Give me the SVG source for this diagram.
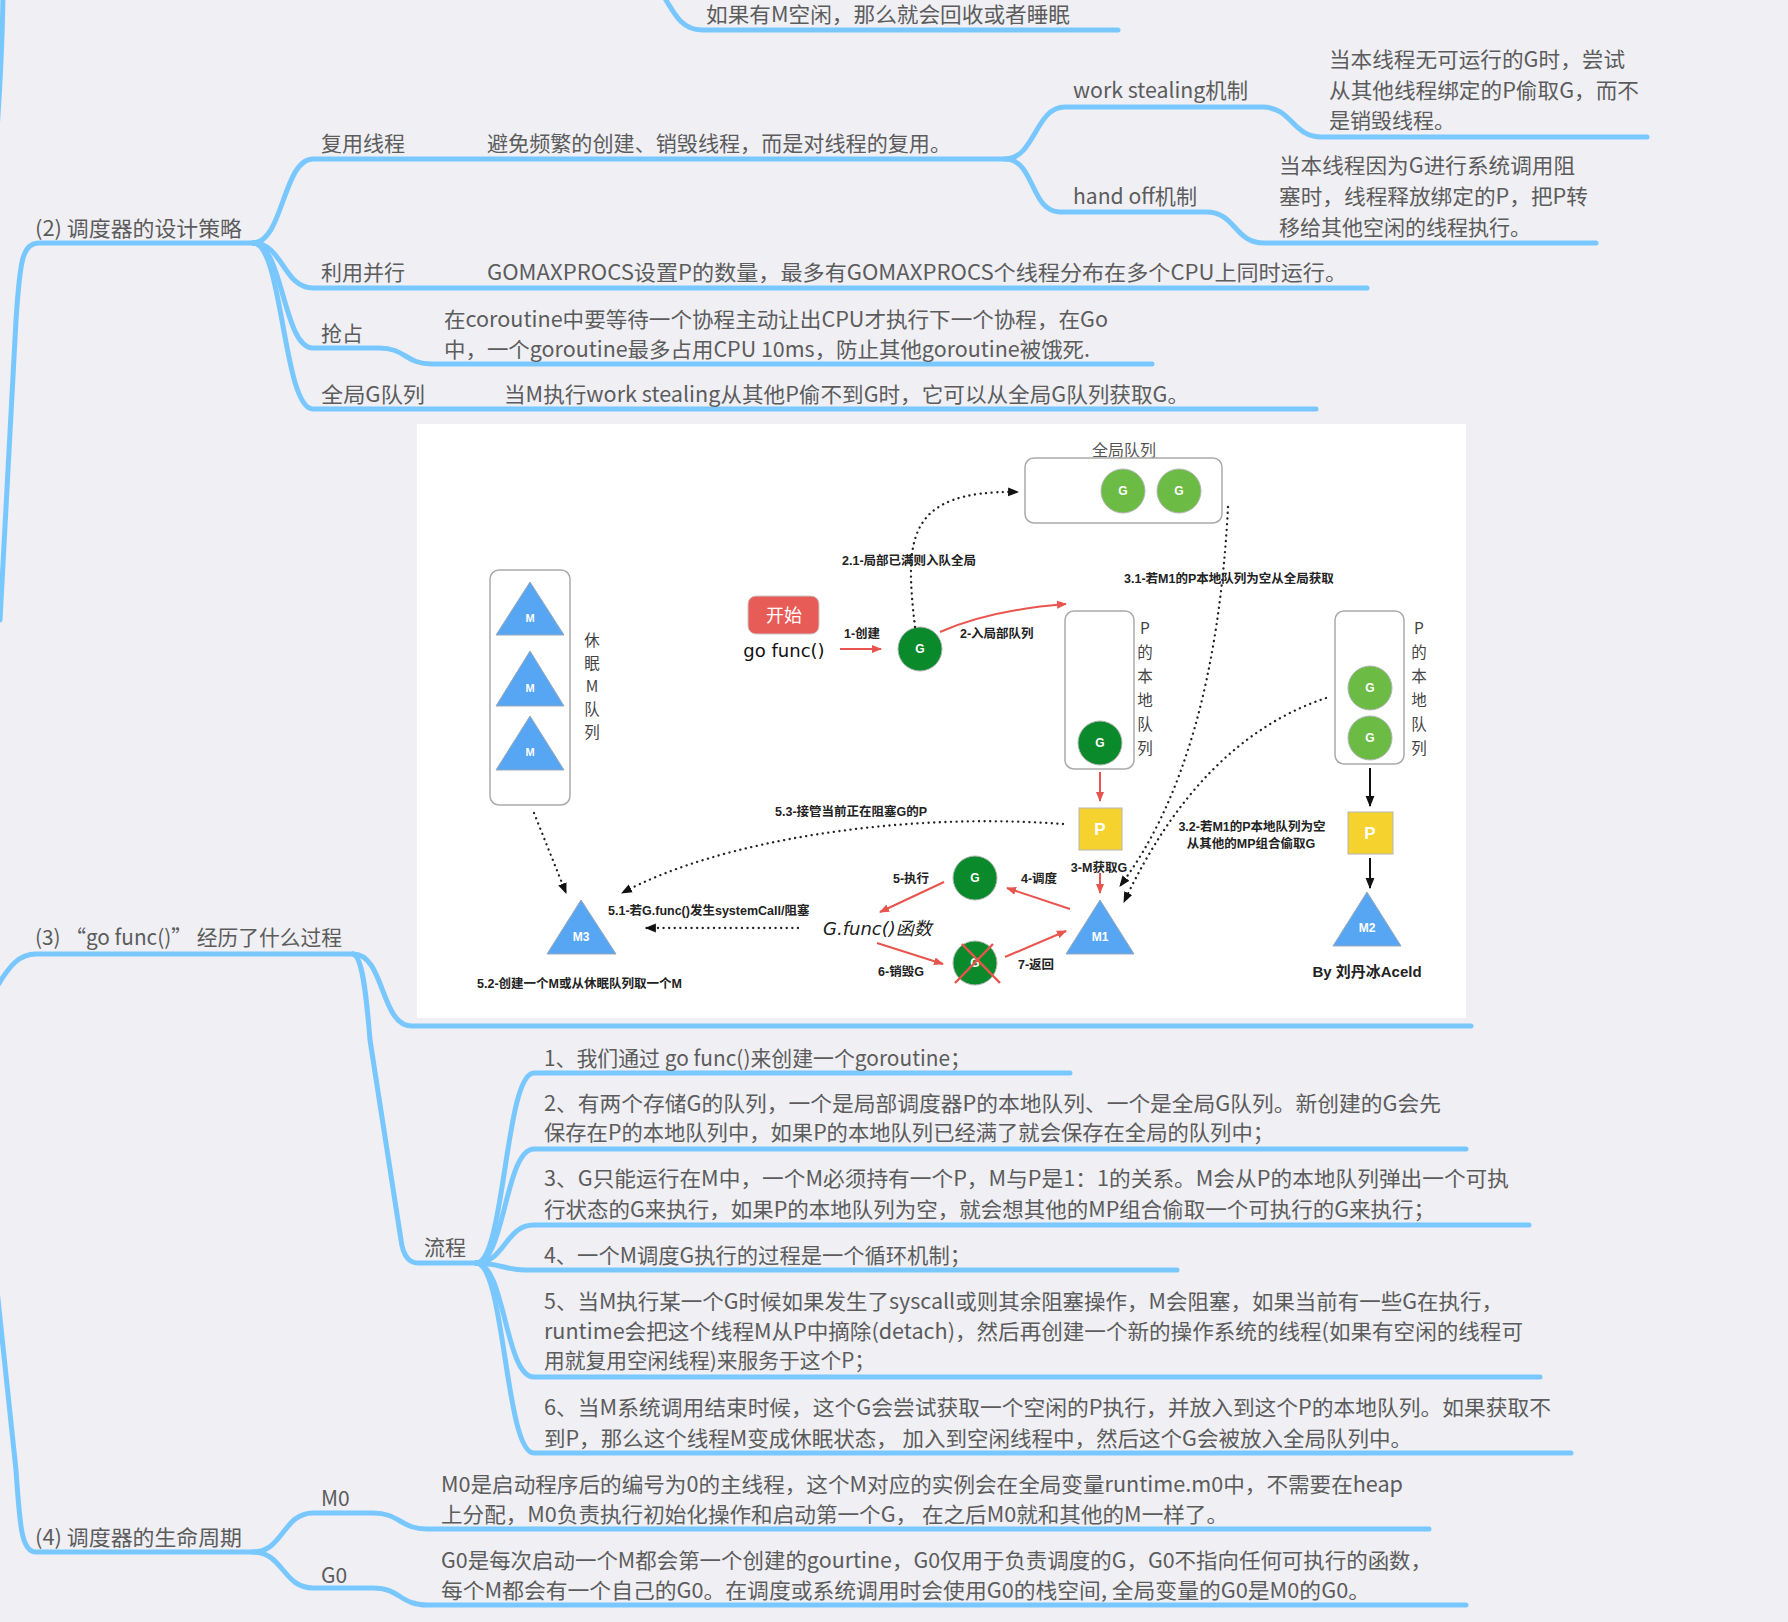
<svg xmlns="http://www.w3.org/2000/svg" width="1788" height="1622" viewBox="0 0 1788 1622">
<defs>
<style>
.br{fill:none;stroke:#78C8FF;stroke-width:5;stroke-linecap:round;stroke-linejoin:round}
.t{font-family:"Noto Sans CJK SC",sans-serif;font-size:21px;fill:#5c5c5c}
.lb{font-family:"Liberation Sans","Noto Sans CJK SC",sans-serif;font-size:12.5px;font-weight:bold;fill:#222}
.lbm{font-family:"Liberation Sans","Noto Sans CJK SC",sans-serif;font-size:12.5px;font-weight:bold;fill:#222;text-anchor:middle}
.red{stroke:#E8554E;stroke-width:2;fill:none}
.dot{stroke:#222;stroke-width:2.3;stroke-dasharray:0.1 5.5;stroke-linecap:round;fill:none}
.blk{stroke:#111;stroke-width:2;fill:none}
.box{fill:#fff;stroke:#aaa;stroke-width:1.5}
.tri{fill:#57A6F4;stroke:#99a8b8;stroke-width:1}
.gd{fill:#0A8A2A;stroke:#b5b5b5;stroke-width:1}
.gl{fill:#6CBB45;stroke:#b5b5b5;stroke-width:1}
.wl{font-family:"Liberation Sans",sans-serif;font-weight:bold;fill:#fff;text-anchor:middle}
.vt{font-family:"Noto Sans CJK SC",sans-serif;font-size:15.5px;fill:#444;text-anchor:middle}
</style>
<marker id="ar" viewBox="0 0 10 10" refX="9" refY="5" markerWidth="10" markerHeight="10" markerUnits="userSpaceOnUse" orient="auto"><path d="M0,1 L10,5 L0,9 z" fill="#E8554E"/></marker>
<marker id="ab" viewBox="0 0 10 10" refX="9" refY="5" markerWidth="11" markerHeight="11" markerUnits="userSpaceOnUse" orient="auto"><path d="M0,1 L10,5 L0,9 z" fill="#111"/></marker>
</defs>
<rect width="1788" height="1622" fill="#EFEFF4"/>

<g id="connectors">
<path class="br" d="M663,-5 C675,15 682,30 702,30 L1118,30"/>
<path class="br" d="M3,-5 Q2,60 -3,130"/>
<path class="br" d="M253,243 L40,243 C22,243 20,260 16,320 L0,620"/>
<path class="br" d="M353,954 L36,954 C20,954 10,964 -5,990"/>
<path class="br" d="M253,1552 L36,1552 C22,1552 20,1530 16,1470 L-3,1290"/>
<path class="br" d="M253,243 C283,243 283,159 313,159 L1005,159"/>
<path class="br" d="M1005,159 C1035,159 1035,107 1065,107 L1262,107 C1292,107 1292,137 1322,137 L1647,137"/>
<path class="br" d="M1005,159 C1035,159 1030,212 1060,212 L1206,212 C1236,212 1234,243 1264,243 L1596,243"/>
<path class="br" d="M253,243 C283,243 283,288 313,288 L1367,288"/>
<path class="br" d="M253,243 C283,243 283,348 313,348 L379,348 C406,348 405,364 432,364 L1152,364"/>
<path class="br" d="M253,243 C283,243 283,409 313,409 L1316,409"/>
<path class="br" d="M353,954 C385,954 380,1026 412,1026 L1471,1026"/>
<path class="br" d="M353,954 C362,956 366,990 370,1040 L401,1240 Q404,1263 418,1263 L476,1263"/>
<path class="br" d="M476,1263 C505,1263 505,1073 534,1073 L1070,1073"/>
<path class="br" d="M476,1263 C505,1263 505,1149 534,1149 L1466,1149"/>
<path class="br" d="M476,1263 C505,1263 505,1225 534,1225 L1529,1225"/>
<path class="br" d="M476,1263 C500,1263 505,1270 525,1270 L1177,1270"/>
<path class="br" d="M476,1263 C505,1263 505,1377 534,1377 L1540,1377"/>
<path class="br" d="M476,1263 C505,1263 505,1453 534,1453 L1571,1453"/>
<path class="br" d="M253,1552 C283,1552 283,1513 313,1513 L373,1513 C400,1513 400,1529 427,1529 L1429,1529"/>
<path class="br" d="M253,1552 C283,1552 283,1588 313,1588 L373,1588 C400,1588 400,1605 427,1605 L1466,1605"/>
</g>

<g id="node-top"><text class="t" x="706" y="22" textLength="364" lengthAdjust="spacingAndGlyphs">如果有M空闲，那么就会回收或者睡眠</text></g>
<g id="node-2"><text class="t" x="35" y="236" textLength="207" lengthAdjust="spacingAndGlyphs">(2) 调度器的设计策略</text></g>
<g id="node-reuse"><text class="t" x="321" y="151">复用线程</text><text class="t" x="487" y="151" textLength="464" lengthAdjust="spacingAndGlyphs">避免频繁的创建、销毁线程，而是对线程的复用。</text></g>
<g id="node-ws"><text class="t" x="1073" y="98" textLength="175" lengthAdjust="spacingAndGlyphs">work stealing机制</text>
<text class="t" x="1329" y="67" textLength="296" lengthAdjust="spacingAndGlyphs">当本线程无可运行的G时，尝试</text>
<text class="t" x="1329" y="98" textLength="310" lengthAdjust="spacingAndGlyphs">从其他线程绑定的P偷取G，而不</text>
<text class="t" x="1329" y="128">是销毁线程。</text></g>
<g id="node-ho"><text class="t" x="1073" y="204" textLength="124" lengthAdjust="spacingAndGlyphs">hand off机制</text>
<text class="t" x="1279" y="173" textLength="296" lengthAdjust="spacingAndGlyphs">当本线程因为G进行系统调用阻</text>
<text class="t" x="1279" y="204" textLength="309" lengthAdjust="spacingAndGlyphs">塞时，线程释放绑定的P，把P转</text>
<text class="t" x="1279" y="235">移给其他空闲的线程执行。</text></g>
<g id="node-par"><text class="t" x="321" y="280">利用并行</text><text class="t" x="487" y="280" textLength="860" lengthAdjust="spacingAndGlyphs">GOMAXPROCS设置P的数量，最多有GOMAXPROCS个线程分布在多个CPU上同时运行。</text></g>
<g id="node-pre"><text class="t" x="321" y="341">抢占</text>
<text class="t" x="444" y="327" textLength="664" lengthAdjust="spacingAndGlyphs">在coroutine中要等待一个协程主动让出CPU才执行下一个协程，在Go</text>
<text class="t" x="444" y="357" textLength="646" lengthAdjust="spacingAndGlyphs">中，一个goroutine最多占用CPU 10ms，防止其他goroutine被饿死.</text></g>
<g id="node-gq"><text class="t" x="321" y="402" textLength="104" lengthAdjust="spacingAndGlyphs">全局G队列</text><text class="t" x="504" y="402" textLength="685" lengthAdjust="spacingAndGlyphs">当M执行work stealing从其他P偷不到G时，它可以从全局G队列获取G。</text></g>

<g id="node-image">
<rect x="417" y="424" width="1049" height="594" fill="#fff"/>
<g id="sleep-queue">
<rect class="box" x="490" y="570" width="80" height="235" rx="9"/>
<polygon class="tri" points="530,582 496,635 564,635"/><text class="wl" x="530" y="622" font-size="11">M</text>
<polygon class="tri" points="530,651 496,706 564,706"/><text class="wl" x="530" y="692" font-size="11">M</text>
<polygon class="tri" points="530,716 496,770 564,770"/><text class="wl" x="530" y="756" font-size="11">M</text>
<text class="vt" x="592" y="646">休</text><text class="vt" x="592" y="669">眠</text><text class="vt" x="592" y="692">M</text><text class="vt" x="592" y="715">队</text><text class="vt" x="592" y="738">列</text>
</g>
<g id="start">
<rect x="748" y="596" width="71" height="38" rx="8" fill="#E85C57" stroke="#c8c8c8"/>
<text x="784" y="622" font-family="Noto Sans CJK SC,sans-serif" font-size="18" fill="#fff" text-anchor="middle">开始</text>
<text x="784" y="657" font-family="DejaVu Sans,sans-serif" font-size="18" fill="#111" text-anchor="middle">go func()</text>
</g>
<g id="g-new"><circle class="gd" cx="920" cy="649" r="22"/><text class="wl" x="920" y="653" font-size="12">G</text></g>
<g id="global-queue">
<text x="1124" y="456" font-family="Noto Sans CJK SC,sans-serif" font-size="16" fill="#555" text-anchor="middle">全局队列</text>
<rect class="box" x="1025" y="458" width="197" height="65" rx="9"/>
<circle class="gl" cx="1123" cy="491" r="22"/><text class="wl" x="1123" y="495" font-size="12">G</text>
<circle class="gl" cx="1179" cy="491" r="22"/><text class="wl" x="1179" y="495" font-size="12">G</text>
</g>
<g id="p-local-1">
<rect class="box" x="1065" y="611" width="69" height="158" rx="9"/>
<circle class="gd" cx="1100" cy="743" r="22"/><text class="wl" x="1100" y="747" font-size="12">G</text>
<text class="vt" x="1145" y="634">P</text><text class="vt" x="1145" y="658">的</text><text class="vt" x="1145" y="682">本</text><text class="vt" x="1145" y="706">地</text><text class="vt" x="1145" y="730">队</text><text class="vt" x="1145" y="754">列</text>
</g>
<g id="p1"><rect x="1079" y="808" width="43" height="42" fill="#F5D22E" stroke="#b5b5b5"/><text class="wl" x="1100" y="835" font-size="17">P</text></g>
<g id="m1"><polygon class="tri" points="1100,900 1066,954 1134,954"/><text class="wl" x="1100" y="941" font-size="12">M1</text></g>
<g id="p-local-2">
<rect class="box" x="1335" y="611" width="69" height="153" rx="9"/>
<circle class="gl" cx="1370" cy="688" r="22"/><text class="wl" x="1370" y="692" font-size="12">G</text>
<circle class="gl" cx="1370" cy="738" r="22"/><text class="wl" x="1370" y="742" font-size="12">G</text>
<text class="vt" x="1419" y="634">P</text><text class="vt" x="1419" y="658">的</text><text class="vt" x="1419" y="682">本</text><text class="vt" x="1419" y="706">地</text><text class="vt" x="1419" y="730">队</text><text class="vt" x="1419" y="754">列</text>
</g>
<g id="p2"><rect x="1348" y="812" width="45" height="42" fill="#F5D22E" stroke="#b5b5b5"/><text class="wl" x="1370" y="839" font-size="17">P</text></g>
<g id="m2"><polygon class="tri" points="1367,892 1333,946 1401,946"/><text class="wl" x="1367" y="932" font-size="12">M2</text></g>
<g id="author"><text x="1367" y="977" font-family="Liberation Sans,Noto Sans CJK SC,sans-serif" font-size="15" font-weight="bold" fill="#222" text-anchor="middle">By 刘丹冰Aceld</text></g>
<g id="g-exec"><circle class="gd" cx="975" cy="878" r="22"/><text class="wl" x="975" y="882" font-size="12">G</text></g>
<g id="g-dead"><circle class="gd" cx="975" cy="963" r="22"/><text class="wl" x="975" y="967" font-size="12">G</text>
<path d="M962,944 L1000,983 M993,944 L955,983" stroke="#E8554E" stroke-width="2.5" fill="none"/></g>
<g id="gfunc"><text x="823" y="935" font-family="DejaVu Sans,Noto Sans CJK SC,sans-serif" font-size="18" fill="#222" font-style="italic">G.func()函数</text></g>
<g id="m3"><polygon class="tri" points="581,900 547,954 616,954"/><text class="wl" x="581" y="941" font-size="12">M3</text></g>

<g id="diagram-connectors">
<path class="red" d="M840,649 L881,649" marker-end="url(#ar)"/>
<path class="dot" d="M915,627 C905,540 905,490 1018,492" marker-end="url(#ab)"/>
<path class="red" d="M940,632 Q990,610 1066,604" marker-end="url(#ar)"/>
<path class="red" d="M1100,772 L1100,801" marker-end="url(#ar)"/>
<path class="red" d="M1100,873 L1100,893" marker-end="url(#ar)"/>
<path class="blk" d="M1370,768 L1370,806" marker-end="url(#ab)"/>
<path class="blk" d="M1370,858 L1370,888" marker-end="url(#ab)"/>
<path class="dot" d="M1228,507 Q1215,760 1120,886" marker-end="url(#ab)"/>
<path class="dot" d="M1326,698 Q1200,740 1124,902" marker-end="url(#ab)"/>
<path class="red" d="M1070,909 L1007,888" marker-end="url(#ar)"/>
<path class="red" d="M1005,957 L1066,931" marker-end="url(#ar)"/>
<path class="red" d="M944,882 L880,912" marker-end="url(#ar)"/>
<path class="red" d="M877,943 L943,964" marker-end="url(#ar)"/>
<path class="dot" d="M534,813 L566,893" marker-end="url(#ab)"/>
<path class="dot" d="M798,928 L646,928" marker-end="url(#ab)"/>
<path class="dot" d="M1063,824 C900,812 720,840 622,893" marker-end="url(#ab)"/>
</g>
<g id="diagram-labels">
<text class="lb" x="844" y="638">1-创建</text>
<text class="lb" x="842" y="565">2.1-局部已满则入队全局</text>
<text class="lb" x="960" y="638">2-入局部队列</text>
<text class="lbm" x="1099" y="872">3-M获取G</text>
<text class="lb" x="1124" y="583">3.1-若M1的P本地队列为空从全局获取</text>
<text class="lbm" x="1252" y="831">3.2-若M1的P本地队列为空</text>
<text class="lbm" x="1251" y="848">从其他的MP组合偷取G</text>
<text class="lbm" x="1039" y="883">4-调度</text>
<text class="lbm" x="1036" y="969">7-返回</text>
<text class="lbm" x="911" y="883">5-执行</text>
<text class="lbm" x="901" y="976">6-销毁G</text>
<text class="lb" x="608" y="915">5.1-若G.func()发生systemCall/阻塞</text>
<text class="lb" x="775" y="816">5.3-接管当前正在阻塞G的P</text>
<text class="lb" x="477" y="988">5.2-创建一个M或从休眠队列取一个M</text>
</g>
</g>

<g id="node-3"><text class="t" x="35" y="945" textLength="307" lengthAdjust="spacingAndGlyphs">(3) “go func()” 经历了什么过程</text></g>
<g id="node-flow"><text class="t" x="424" y="1255">流程</text></g>
<g id="node-f1"><text class="t" x="544" y="1066" textLength="427" lengthAdjust="spacingAndGlyphs">1、我们通过 go func()来创建一个goroutine；</text></g>
<g id="node-f2"><text class="t" x="544" y="1111" textLength="897" lengthAdjust="spacingAndGlyphs">2、有两个存储G的队列，一个是局部调度器P的本地队列、一个是全局G队列。新创建的G会先</text>
<text class="t" x="544" y="1140" textLength="730" lengthAdjust="spacingAndGlyphs">保存在P的本地队列中，如果P的本地队列已经满了就会保存在全局的队列中；</text></g>
<g id="node-f3"><text class="t" x="544" y="1186" textLength="965" lengthAdjust="spacingAndGlyphs">3、G只能运行在M中，一个M必须持有一个P，M与P是1：1的关系。M会从P的本地队列弹出一个可执</text>
<text class="t" x="544" y="1217" textLength="891" lengthAdjust="spacingAndGlyphs">行状态的G来执行，如果P的本地队列为空，就会想其他的MP组合偷取一个可执行的G来执行；</text></g>
<g id="node-f4"><text class="t" x="544" y="1263" textLength="427" lengthAdjust="spacingAndGlyphs">4、一个M调度G执行的过程是一个循环机制；</text></g>
<g id="node-f5"><text class="t" x="544" y="1309" textLength="959" lengthAdjust="spacingAndGlyphs">5、当M执行某一个G时候如果发生了syscall或则其余阻塞操作，M会阻塞，如果当前有一些G在执行，</text>
<text class="t" x="544" y="1339" textLength="979" lengthAdjust="spacingAndGlyphs">runtime会把这个线程M从P中摘除(detach)，然后再创建一个新的操作系统的线程(如果有空闲的线程可</text>
<text class="t" x="544" y="1368" textLength="331" lengthAdjust="spacingAndGlyphs">用就复用空闲线程)来服务于这个P；</text></g>
<g id="node-f6"><text class="t" x="544" y="1415" textLength="1007" lengthAdjust="spacingAndGlyphs">6、当M系统调用结束时候，这个G会尝试获取一个空闲的P执行，并放入到这个P的本地队列。如果获取不</text>
<text class="t" x="544" y="1446" textLength="868" lengthAdjust="spacingAndGlyphs">到P，那么这个线程M变成休眠状态， 加入到空闲线程中，然后这个G会被放入全局队列中。</text></g>
<g id="node-4"><text class="t" x="35" y="1545" textLength="207" lengthAdjust="spacingAndGlyphs">(4) 调度器的生命周期</text></g>
<g id="node-m0"><text class="t" x="321" y="1506">M0</text>
<text class="t" x="441" y="1492" textLength="962" lengthAdjust="spacingAndGlyphs">M0是启动程序后的编号为0的主线程，这个M对应的实例会在全局变量runtime.m0中，不需要在heap</text>
<text class="t" x="441" y="1522" textLength="787" lengthAdjust="spacingAndGlyphs">上分配，M0负责执行初始化操作和启动第一个G， 在之后M0就和其他的M一样了。</text></g>
<g id="node-g0"><text class="t" x="321" y="1583">G0</text>
<text class="t" x="441" y="1568" textLength="991" lengthAdjust="spacingAndGlyphs">G0是每次启动一个M都会第一个创建的gourtine，G0仅用于负责调度的G，G0不指向任何可执行的函数，</text>
<text class="t" x="441" y="1598" textLength="929" lengthAdjust="spacingAndGlyphs">每个M都会有一个自己的G0。在调度或系统调用时会使用G0的栈空间, 全局变量的G0是M0的G0。</text></g>
</svg>
